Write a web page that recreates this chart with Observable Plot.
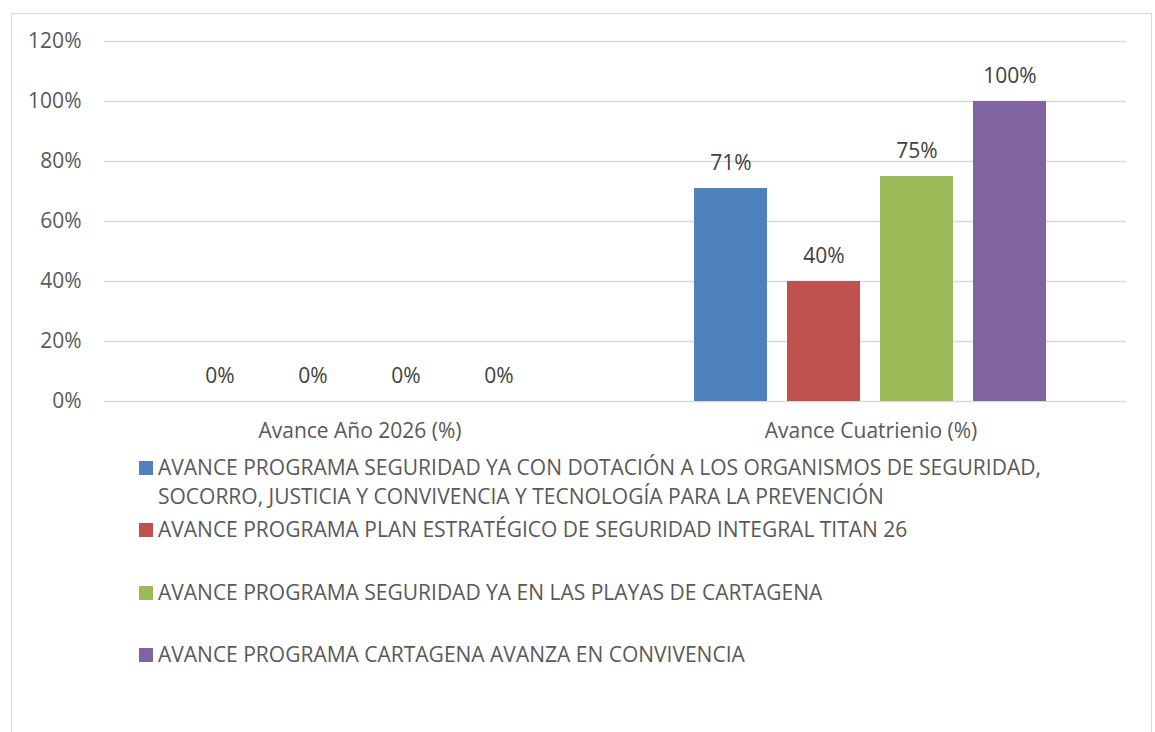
<!DOCTYPE html>
<html>
<head>
<meta charset="utf-8">
<script src="https://cdn.jsdelivr.net/npm/d3@7"></script>
<script src="https://cdn.jsdelivr.net/npm/@observablehq/plot@0.6"></script>
<style>
  html, body { margin: 0; padding: 0; background: #fff; width: 1155px; height: 732px; overflow: hidden; }
  #frame { position: absolute; left: 11px; top: 13px; width: 1141px; height: 760px; border: 1px solid #d9d9d9; box-sizing: border-box; }
  #chart { position: absolute; left: 0; top: 0; }
  #legend { position: absolute; left: 139px; top: 453px; width: 960px; font-family: "Open Sans", sans-serif; font-size: 21px; color: #595959; }
  .item { position: relative; height: 62.4px; padding-left: 19px; line-height: 29px; }
  .sw { position: absolute; left: 0; top: 8px; width: 14px; height: 14px; }
</style>
</head>
<body>
<div id="frame"></div>
<div id="chart"></div>
<div id="legend"></div>
<script>
const categories = ["Avance Año 2026 (%)", "Avance Cuatrienio (%)"];
const series = [
  "AVANCE PROGRAMA SEGURIDAD YA CON DOTACIÓN A LOS ORGANISMOS DE SEGURIDAD, SOCORRO, JUSTICIA Y CONVIVENCIA Y TECNOLOGÍA PARA LA PREVENCIÓN",
  "AVANCE PROGRAMA PLAN ESTRATÉGICO DE SEGURIDAD INTEGRAL TITAN 26",
  "AVANCE PROGRAMA SEGURIDAD YA EN LAS PLAYAS DE CARTAGENA",
  "AVANCE PROGRAMA CARTAGENA AVANZA EN CONVIVENCIA"
];
const values2026 = [0, 0, 0, 0];
const valuesCuatrienio = [71, 40, 75, 100];
const yTicks = [0, 20, 40, 60, 80, 100, 120];
const colors = ["#4f81bd", "#c0504d", "#9bbb59", "#8064a2"];

const valueSets = [values2026, valuesCuatrienio];
const data = [];
categories.forEach((c, i) => series.forEach((s, j) => data.push({category: c, series: s, value: valueSets[i][j]})));

const chart = Plot.plot({
  width: 1155,
  height: 450,
  marginLeft: 104,
  marginRight: 29,
  marginTop: 41,
  marginBottom: 49,
  style: {fontFamily: "Open Sans, sans-serif", fontSize: "21px", color: "#595959", background: "transparent", overflow: "visible"},
  fx: {domain: categories, padding: 0, label: null, axis: "bottom", tickSize: 0, tickPadding: 22},
  x: {domain: series, axis: null, paddingInner: 0.215, paddingOuter: 0.83},
  y: {domain: [0, 120], ticks: yTicks, tickFormat: d => d + "%", tickSize: 0, tickPadding: 23, label: null},
  color: {domain: series, range: colors},
  marks: [
    Plot.ruleY(yTicks, {stroke: "#d9d9d9", strokeWidth: 1.3}),
    Plot.barY(data, {fx: "category", x: "series", y: "value", fill: "series"}),
    Plot.text(data, {fx: "category", x: "series", y: "value", text: d => d.value + "%", dy: -25, fontSize: 21, fill: "#404040"})
  ]
});
document.getElementById("chart").appendChild(chart);

const legend = document.getElementById("legend");
series.forEach((s, i) => {
  const item = document.createElement("div");
  item.className = "item";
  const sw = document.createElement("span");
  sw.className = "sw";
  sw.style.background = colors[i];
  item.appendChild(sw);
  item.appendChild(document.createTextNode(s));
  legend.appendChild(item);
});
</script>
</body>
</html>
